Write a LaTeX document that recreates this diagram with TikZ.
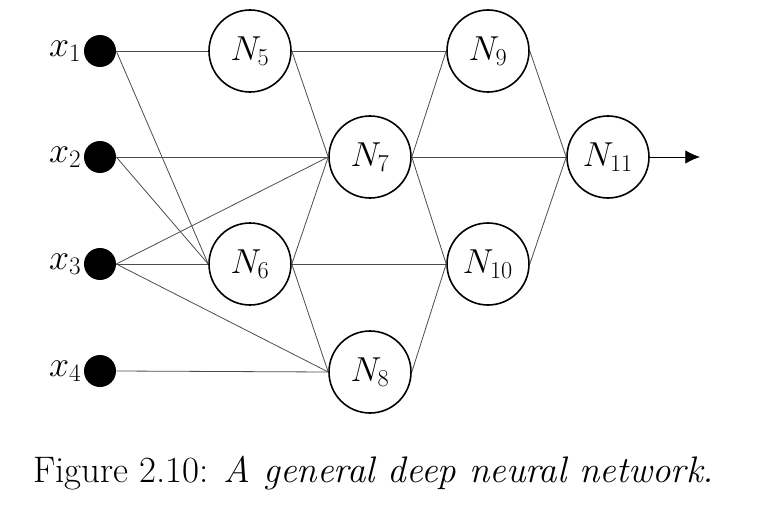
\RequirePackage{fix-cm}
\documentclass[tikz,border=0pt]{standalone}
\usepackage{amsmath}
\usepackage{amssymb}
\usepackage{tikz}
\usetikzlibrary{arrows.meta}

\tikzset{
    neuron/.style={circle, draw, line width=1.2pt, minimum size=61.5pt, inner sep=0pt, font=\fontsize{26}{30}\selectfont},
    inpdot/.style={circle, fill, black, minimum size=24pt, inner sep=0pt},
    inplabel/.style={anchor=east, inner sep=1.5pt, font=\fontsize{27}{30}\selectfont},
    link/.style={black!70, line width=0.6pt},
}

\begin{document}
\begin{tikzpicture}[x=0.75pt, y=-0.75pt]
        \useasboundingbox (0,0) rectangle (757,510);

        % inputs
        \node[inpdot] (x1) at (100,51) {};
        \node[inpdot] (x2) at (100,157) {};
        \node[inpdot] (x3) at (100,264) {};
        \node[inpdot] (x4) at (100,371) {};
        \node[inplabel] (lx1) at (x1.west) {$x_1$};
        \node[inplabel] (lx2) at (x2.west) {$x_2$};
        \node[inplabel] (lx3) at (x3.west) {$x_3$};
        \node[inplabel] (lx4) at (x4.west) {$x_4$};

        % neurons
        \node[neuron] (n5) at (250,51) {$N_{5}$};
        \node[neuron] (n6) at (250,264) {$N_{6}$};
        \node[neuron] (n7) at (370,157) {$N_{7}$};
        \node[neuron] (n8) at (370,372) {$N_{8}$};
        \node[neuron] (n9) at (488,51) {$N_{9}$};
        \node[neuron] (n10) at (488,264) {$N_{10}$};
        \node[neuron] (n11) at (608,157) {$N_{11}$};
        \coordinate (out) at (700,157);

        % connections
        \draw[link] (x1.east) -- (n5.west);
        \draw[link] (x1.east) -- (n6.west);
        \draw[link] (x2.east) -- (n7.west);
        \draw[link] (x2.east) -- (n6.west);
        \draw[link] (x3.east) -- (n7.west);
        \draw[link] (x3.east) -- (n6.west);
        \draw[link] (x3.east) -- (n8.west);
        \draw[link] (x4.east) -- (n8.west);
        \draw[link] (n5.east) -- (n9.west);
        \draw[link] (n5.east) -- (n7.west);
        \draw[link] (n6.east) -- (n7.west);
        \draw[link] (n6.east) -- (n10.west);
        \draw[link] (n6.east) -- (n8.west);
        \draw[link] (n7.east) -- (n9.west);
        \draw[link] (n7.east) -- (n11.west);
        \draw[link] (n7.east) -- (n10.west);
        \draw[link] (n8.east) -- (n10.west);
        \draw[link] (n9.east) -- (n11.west);
        \draw[link] (n10.east) -- (n11.west);
        \draw[black, line width=0.6pt, -{Latex[length=11pt, width=10pt]}] (n11.east) -- (out);

        \node[anchor=base west, inner sep=0pt, font=\fontsize{27.7}{32}\selectfont] (cap) at (33,482) {Figure 2.10: \textit{A general deep neural network.}};
    \end{tikzpicture}
\end{document}
